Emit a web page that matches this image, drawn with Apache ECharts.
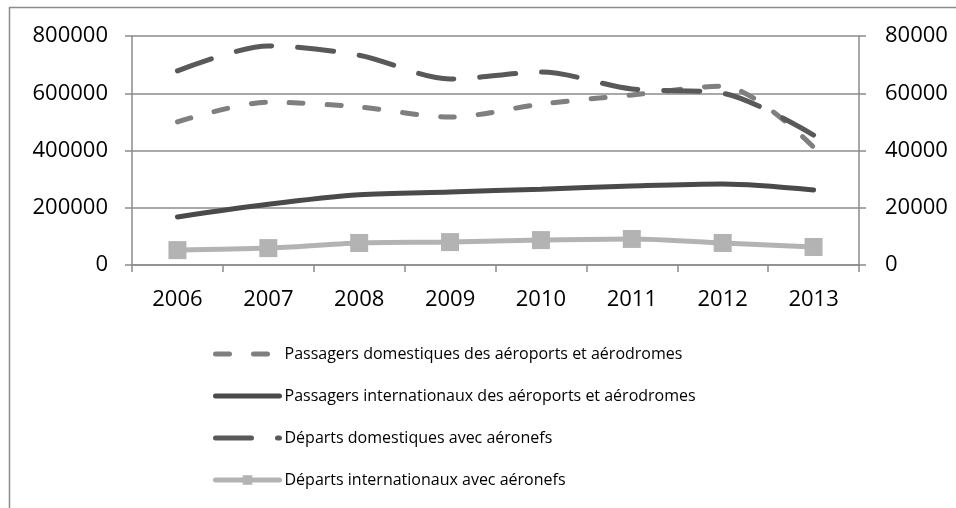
<!DOCTYPE html>
<html>
<head>
    <meta charset="utf-8">
    <script src="https://cdn.jsdelivr.net/npm/echarts@6/dist/echarts.min.js"></script>
    <style>
        html, body { margin: 0; padding: 0; background: #fff; }
    </style>
</head>
<body>
    <div id="chart" style="width: 956px;height: 508px;"></div>
    <script type="text/javascript">
        // données
        var years = ['2006', '2007', '2008', '2009', '2010', '2011', '2012', '2013'];
        var passDom = [500000, 569000, 552000, 517000, 562000, 594000, 625000, 412000];
        var passIntl = [168000, 212000, 245000, 255000, 265000, 276000, 283000, 262000];
        var depDom = [67800, 76500, 73300, 65000, 67400, 61500, 60000, 45400];
        var depIntl = [5200, 5900, 7700, 8000, 8700, 9100, 7700, 6300];
        var names = [
            'Passagers domestiques des aéroports et aérodromes',
            'Passagers internationaux des aéroports et aérodromes',
            'Départs domestiques avec aéronefs',
            'Départs internationaux avec aéronefs'
        ];

        var font = '"Open Sans", sans-serif';
        var axisGray = '#8c8c8c';
        var hidden = { color: 'rgba(0,0,0,0)', opacity: 0, borderWidth: 0 };

        var myChart = echarts.init(document.getElementById('chart'));
        var option = {
            backgroundColor: '#ffffff',
            animation: false,
            textStyle: { fontFamily: font },
            graphic: [{
                type: 'rect',
                shape: { x: 9.5, y: 7.5, width: 960, height: 520 },
                style: { fill: 'none', stroke: '#8c8c8c', lineWidth: 1.5 },
                silent: true
            }],
            grid: { left: 132, right: 97, top: 36, bottom: 243 },
            legend: {
                orient: 'vertical',
                left: 208,
                top: 341,
                itemWidth: 64,
                itemHeight: 12,
                itemGap: 26,
                lineStyle: { width: 5 },
                textStyle: { fontSize: 16, color: '#000', fontFamily: font },
                data: [
                    { name: names[0], itemStyle: hidden },
                    { name: names[1], itemStyle: hidden },
                    { name: names[2], itemStyle: hidden },
                    { name: names[3] }
                ]
            },
            xAxis: {
                type: 'category',
                data: years,
                boundaryGap: true,
                axisLine: { lineStyle: { color: axisGray, width: 1.5 } },
                axisTick: { show: true, length: 7, lineStyle: { color: axisGray, width: 1.5 } },
                axisLabel: { fontSize: 22, color: '#000', margin: 24, fontFamily: font }
            },
            yAxis: [{
                type: 'value',
                min: 0, max: 800000, interval: 200000,
                axisLine: { show: true, lineStyle: { color: axisGray, width: 1.5 } },
                axisTick: { show: true, length: 7, lineStyle: { color: axisGray, width: 1.5 } },
                splitLine: { show: true, lineStyle: { color: axisGray, width: 1.5 } },
                axisLabel: {
                    fontSize: 22, color: '#000', margin: 24, fontFamily: font,
                    formatter: function (v) { return String(v); }
                }
            }, {
                type: 'value',
                position: 'right',
                min: 0, max: 80000, interval: 20000,
                axisLine: { show: true, lineStyle: { color: axisGray, width: 1.5 } },
                axisTick: { show: true, length: 7, lineStyle: { color: axisGray, width: 1.5 } },
                splitLine: { show: false },
                axisLabel: {
                    fontSize: 22, color: '#000', margin: 26, fontFamily: font,
                    formatter: function (v) { return String(v); }
                }
            }],
            series: [{
                name: names[0],
                type: 'line',
                yAxisIndex: 0,
                data: passDom,
                smooth: 0.3,
                showSymbol: false,
                symbol: 'none',
                color: '#7f7f7f',
                lineStyle: { color: '#7f7f7f', width: 5, type: [14, 24], cap: 'round' }
            }, {
                name: names[1],
                type: 'line',
                yAxisIndex: 0,
                data: passIntl,
                smooth: 0.3,
                showSymbol: false,
                symbol: 'none',
                color: '#4a4a4a',
                lineStyle: { color: '#4a4a4a', width: 5, cap: 'round' }
            }, {
                name: names[2],
                type: 'line',
                yAxisIndex: 1,
                data: depDom,
                smooth: 0.3,
                showSymbol: false,
                symbol: 'none',
                color: '#595959',
                lineStyle: { color: '#595959', width: 5, type: [36, 26], cap: 'round' }
            }, {
                name: names[3],
                type: 'line',
                yAxisIndex: 1,
                data: depIntl,
                smooth: 0.3,
                symbol: 'rect',
                symbolSize: 18,
                showSymbol: true,
                color: '#b3b3b3',
                itemStyle: { color: '#b3b3b3' },
                lineStyle: { color: '#b3b3b3', width: 5, cap: 'round' }
            }]
        };
        myChart.setOption(option);
    </script>
</body>
</html>
